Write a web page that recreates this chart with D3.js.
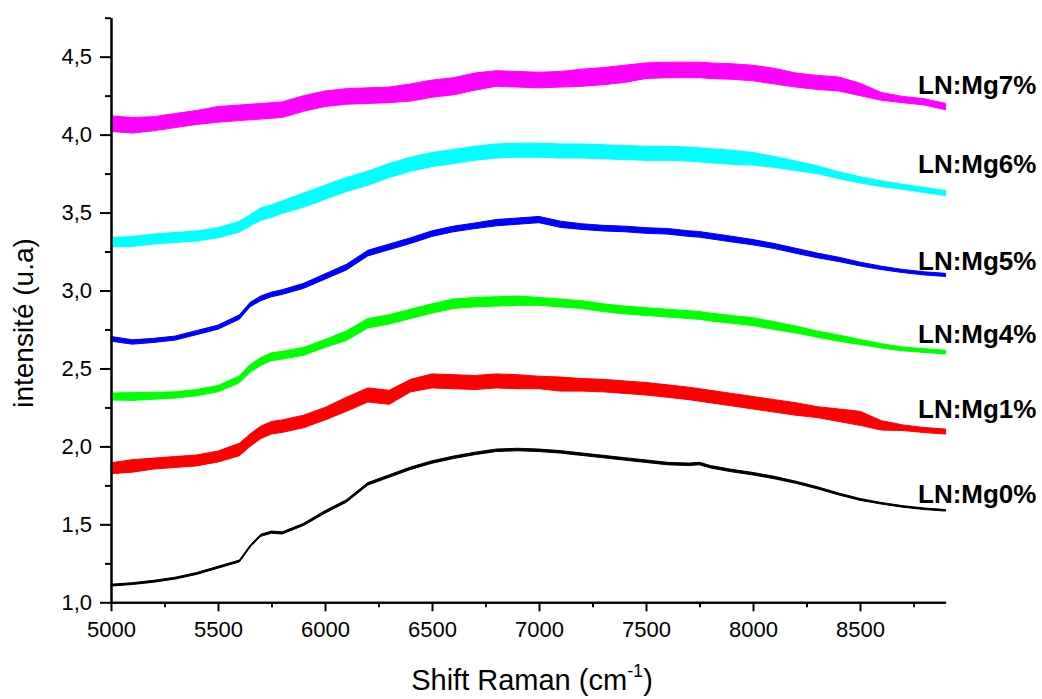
<!DOCTYPE html>
<html>
<head>
<meta charset="utf-8">
<script src="https://cdn.jsdelivr.net/npm/d3@7/dist/d3.min.js"></script>
<style>
  html, body { margin: 0; padding: 0; background: #fff; }
  svg { display: block; }
  text { font-family: Arial, "Liberation Sans", sans-serif; fill: #000; }
</style>
</head>
<body>
<svg id="chart" width="1042" height="699"></svg>
<script>
// ---------------- DATA ----------------
const shift = [5000,5100,5200,5300,5400,5500,5600,5650,5700,5750,5800,
  5900,6000,6100,6200,6300,6400,6500,6600,6700,6800,6900,7000,7100,7200,7300,7400,7500,7600,7700,
  7750,7800,7900,8000,8100,8200,8300,8400,8500,8600,8700,8800,8900];

const seriesNames = ["LN:Mg0%","LN:Mg1%","LN:Mg4%","LN:Mg5%","LN:Mg6%","LN:Mg7%"];

const mg0 = [1.11,1.12,1.135,1.155,1.185,1.225,1.265,1.36,1.43,1.45,1.445,
  1.50,1.58,1.65,1.76,1.81,1.86,1.90,1.93,1.955,1.975,1.98,1.975,1.965,1.95,1.935,1.92,1.905,1.89,1.885,
  1.89,1.87,1.845,1.825,1.80,1.77,1.735,1.695,1.66,1.635,1.615,1.60,1.59];
const mg1 = [1.86,1.875,1.89,1.90,1.91,1.935,1.98,2.04,2.09,2.12,2.13,
  2.16,2.21,2.27,2.33,2.315,2.39,2.42,2.415,2.41,2.42,2.415,2.41,2.40,2.395,2.39,2.38,2.37,2.355,2.34,
  2.33,2.32,2.30,2.28,2.26,2.24,2.22,2.20,2.18,2.135,2.12,2.105,2.095];
const mg4 = [2.32,2.32,2.325,2.33,2.345,2.37,2.43,2.50,2.545,2.575,2.585,
  2.61,2.66,2.71,2.79,2.815,2.85,2.885,2.915,2.925,2.93,2.935,2.93,2.92,2.91,2.89,2.875,2.865,2.855,2.845,
  2.84,2.83,2.815,2.80,2.775,2.75,2.72,2.695,2.67,2.645,2.625,2.615,2.605];
const mg5 = [2.69,2.67,2.68,2.695,2.73,2.765,2.83,2.91,2.95,2.975,2.99,
  3.03,3.09,3.15,3.24,3.28,3.32,3.365,3.395,3.415,3.435,3.445,3.455,3.425,3.41,3.40,3.395,3.385,3.38,3.365,
  3.36,3.35,3.33,3.31,3.285,3.255,3.225,3.20,3.17,3.145,3.125,3.11,3.10];
const mg6 = [3.31,3.315,3.33,3.34,3.35,3.37,3.41,3.45,3.49,3.51,3.535,
  3.58,3.63,3.68,3.72,3.77,3.81,3.84,3.86,3.88,3.895,3.90,3.90,3.895,3.895,3.89,3.885,3.88,3.88,3.875,
  3.87,3.865,3.855,3.845,3.825,3.80,3.775,3.74,3.71,3.685,3.665,3.645,3.625];
const mg7 = [4.07,4.06,4.07,4.09,4.11,4.13,4.14,4.145,4.15,4.155,4.16,
  4.20,4.23,4.245,4.25,4.255,4.27,4.295,4.31,4.34,4.36,4.355,4.35,4.355,4.365,4.375,4.39,4.41,4.415,4.415,
  4.415,4.41,4.405,4.395,4.375,4.35,4.335,4.325,4.29,4.245,4.225,4.21,4.18];

const noise0 = [0.006,0.006,0.006,0.006,0.006,0.006,0.006,0.006,0.007,0.007,0.007,
  0.007,0.008,0.008,0.008,0.008,0.008,0.008,0.008,0.008,0.008,0.008,0.008,0.008,0.008,0.008,0.008,0.008,0.008,0.008,
  0.008,0.008,0.008,0.008,0.008,0.007,0.007,0.006,0.006,0.005,0.005,0.005,0.005];
const noise1 = [0.035,0.04,0.035,0.035,0.035,0.035,0.04,0.04,0.04,0.04,0.04,
  0.04,0.04,0.045,0.045,0.045,0.04,0.045,0.045,0.045,0.045,0.045,0.04,0.045,0.04,0.04,0.04,0.04,0.04,0.04,
  0.04,0.04,0.04,0.04,0.04,0.04,0.035,0.04,0.045,0.03,0.018,0.016,0.016];
const noise4 = [0.022,0.025,0.022,0.02,0.02,0.02,0.022,0.025,0.025,0.025,0.025,
  0.025,0.025,0.03,0.03,0.03,0.03,0.03,0.03,0.03,0.03,0.03,0.025,0.025,0.025,0.025,0.025,0.025,0.025,0.025,
  0.025,0.025,0.025,0.025,0.025,0.022,0.02,0.02,0.016,0.014,0.012,0.012,0.012];
const noise5 = [0.015,0.014,0.013,0.013,0.013,0.013,0.014,0.014,0.015,0.015,0.015,
  0.016,0.017,0.018,0.018,0.018,0.018,0.018,0.018,0.018,0.02,0.02,0.02,0.02,0.018,0.018,0.018,0.018,0.018,0.018,
  0.018,0.018,0.018,0.017,0.016,0.016,0.015,0.014,0.012,0.011,0.01,0.01,0.01];
const noise6 = [0.03,0.032,0.032,0.032,0.032,0.032,0.035,0.035,0.04,0.04,0.04,
  0.045,0.045,0.045,0.045,0.045,0.045,0.045,0.045,0.045,0.045,0.045,0.045,0.045,0.045,0.045,0.045,0.045,0.045,0.045,
  0.045,0.045,0.045,0.04,0.035,0.03,0.025,0.022,0.02,0.018,0.016,0.016,0.016];
const noise7 = [0.05,0.05,0.045,0.045,0.045,0.05,0.05,0.05,0.05,0.05,0.05,
  0.05,0.05,0.05,0.05,0.05,0.055,0.055,0.055,0.055,0.05,0.05,0.05,0.05,0.055,0.055,0.055,0.05,0.05,0.05,
  0.05,0.05,0.05,0.05,0.05,0.045,0.045,0.045,0.04,0.025,0.02,0.02,0.02];

const yMajorTicks = [1.0,1.5,2.0,2.5,3.0,3.5,4.0,4.5];
const yMinorTicks = [1.25,1.75,2.25,2.75,3.25,3.75,4.25,4.75];
const xMajorTicks = [5000,5500,6000,6500,7000,7500,8000,8500];
const xMinorTicks = [5250,5750,6250,6750,7250,7750,8250,8750];

// ---------------- LAYOUT / STYLE ----------------
const series = [
  {name: seriesNames[0], values: mg0, noise: noise0, color: "#000000", labelY: 503},
  {name: seriesNames[1], values: mg1, noise: noise1, color: "#ff0000", labelY: 418},
  {name: seriesNames[2], values: mg4, noise: noise4, color: "#00ff00", labelY: 343},
  {name: seriesNames[3], values: mg5, noise: noise5, color: "#0000ff", labelY: 270},
  {name: seriesNames[4], values: mg6, noise: noise6, color: "#00ffff", labelY: 173},
  {name: seriesNames[5], values: mg7, noise: noise7, color: "#ff00ff", labelY: 94}
];

const svg = d3.select("#chart");
const x = d3.scaleLinear().domain([5000, 8900]).range([111, 945.6]);
const y = d3.scaleLinear().domain([1, 4.75]).range([602.3, 17.7]);

const fmtY = v => d3.format(".1f")(v).replace(".", ",");

// curves
const area = d3.area()
  .x((d, i) => x(shift[i]))
  .y0(d => y(d.v - d.n))
  .y1(d => y(d.v + d.n));
const line = d3.line()
  .x((d, i) => x(shift[i]))
  .y(d => y(d.v));

const plot = svg.append("g");
series.forEach(s => {
  const pts = s.values.map((v, i) => ({v: v, n: s.noise[i]}));
  plot.append("path")
    .attr("d", area(pts))
    .attr("fill", s.color)
    .attr("stroke", s.color)
    .attr("stroke-width", 1)
    .attr("stroke-linejoin", "round");
  plot.append("path")
    .attr("d", line(pts))
    .attr("fill", "none")
    .attr("stroke", s.color)
    .attr("stroke-width", 1.5);
});

// axes
const axisStyle = g => {
  g.selectAll("path.domain").attr("stroke", "#000").attr("stroke-width", 2);
  g.selectAll(".tick line").attr("stroke", "#000").attr("stroke-width", 2);
  g.selectAll(".tick text").attr("font-size", 22).attr("fill", "#000")
    .attr("font-family", 'Arial, "Liberation Sans", sans-serif');
};

svg.append("g").attr("transform", "translate(111,0)")
  .call(d3.axisLeft(y).tickValues(yMinorTicks).tickSize(6).tickSizeOuter(0).tickFormat(""))
  .call(axisStyle);
svg.append("g").attr("transform", "translate(111,0)")
  .call(d3.axisLeft(y).tickValues(yMajorTicks).tickSize(11).tickSizeOuter(0).tickPadding(8).tickFormat(fmtY))
  .call(axisStyle);

svg.append("g").attr("transform", "translate(0,602.3)")
  .call(d3.axisBottom(x).tickValues(xMinorTicks).tickSize(5).tickSizeOuter(0).tickFormat(""))
  .call(axisStyle);
svg.append("g").attr("transform", "translate(0,602.3)")
  .call(d3.axisBottom(x).tickValues(xMajorTicks).tickSize(9).tickSizeOuter(0).tickPadding(10).tickFormat(d3.format("d")))
  .call(axisStyle);

// axis titles
const xt = svg.append("text")
  .attr("x", 532).attr("y", 690)
  .attr("text-anchor", "middle")
  .attr("font-size", 29);
xt.append("tspan").text("Shift Raman (cm");
xt.append("tspan").attr("font-size", 18).attr("dy", -13).text("-1");
xt.append("tspan").attr("dy", 13).text(")");

svg.append("text")
  .attr("transform", "translate(33,323) rotate(-90)")
  .attr("text-anchor", "middle")
  .attr("font-size", 28)
  .text("intensité (u.a)");

// series labels
svg.append("g").selectAll("text").data(series).join("text")
  .attr("x", 918)
  .attr("y", d => d.labelY)
  .attr("font-size", 26)
  .attr("font-weight", "bold")
  .text(d => d.name);
</script>
</body>
</html>
